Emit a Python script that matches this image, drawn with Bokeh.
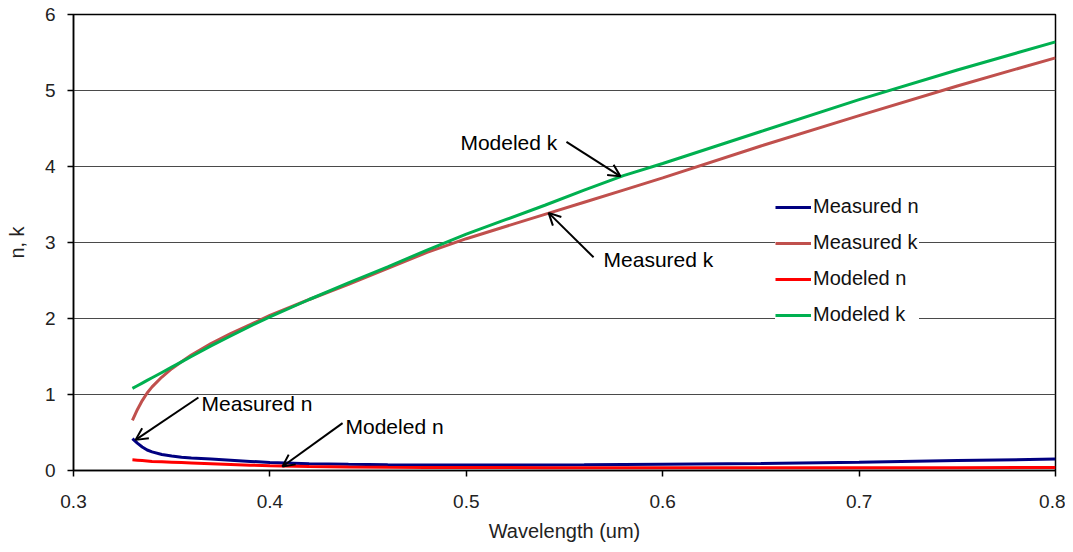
from bokeh.plotting import figure
from bokeh.models import Range1d, FixedTicker, Legend, LegendItem, Label, Arrow, OpenHead
from bokeh.embed import file_html
from bokeh.resources import INLINE

# ---- data ----
wavelength = [0.33, 0.3325, 0.335, 0.3375, 0.34, 0.345, 0.35, 0.355, 0.36, 0.37, 0.38, 0.39, 0.40,
              0.42, 0.44, 0.46, 0.48, 0.50, 0.52, 0.54, 0.56, 0.58, 0.60, 0.65,
              0.70, 0.75, 0.80]
measured_n = [0.42, 0.36, 0.31, 0.27, 0.245, 0.21, 0.19, 0.175, 0.165, 0.15, 0.135, 0.12, 0.105,
              0.09, 0.082, 0.077, 0.074, 0.073, 0.073, 0.074, 0.076, 0.079, 0.082, 0.092,
              0.11, 0.13, 0.15]
measured_k = [0.66, 0.80, 0.92, 1.02, 1.10, 1.23, 1.34, 1.43, 1.52, 1.67, 1.80, 1.92, 2.04,
              2.25, 2.45, 2.66, 2.87, 3.05, 3.21, 3.37, 3.53, 3.69, 3.85, 4.27,
              4.67, 5.06, 5.43]
modeled_n = [0.14, 0.135, 0.13, 0.125, 0.12, 0.115, 0.11, 0.105, 0.10, 0.09, 0.08, 0.07, 0.062,
             0.052, 0.046, 0.043, 0.041, 0.04, 0.038, 0.037, 0.036, 0.035, 0.035, 0.035,
             0.035, 0.037, 0.04]
modeled_k = [1.08, 1.115, 1.15, 1.185, 1.22, 1.29, 1.36, 1.43, 1.50, 1.64, 1.77, 1.90, 2.02,
             2.25, 2.47, 2.68, 2.90, 3.11, 3.30, 3.49, 3.69, 3.88, 4.04, 4.46,
             4.88, 5.27, 5.64]

series_names = ["Measured n", "Measured k", "Modeled n", "Modeled k"]
x_ticks = [0.3, 0.4, 0.5, 0.6, 0.7, 0.8]
y_ticks = [0, 1, 2, 3, 4, 5, 6]

# annotation texts and their anchor / arrow points (data units)
ann_text = ["Modeled k", "Measured k", "Measured n", "Modeled n"]
ann_x = [0.497, 0.5699, 0.3652, 0.4385]
ann_y = [4.32, 2.77, 0.883, 0.584]
arr_x0 = [0.5510, 0.5648, 0.3636, 0.4370]
arr_y0 = [4.325, 2.805, 0.961, 0.623]
arr_x1 = [0.5785, 0.5419, 0.3316, 0.4064]
arr_y1 = [3.870, 3.390, 0.403, 0.052]

FONT = "Liberation Sans"

p = figure(width=1065, height=544, output_backend="svg", toolbar_location=None,
           x_range=Range1d(0.3, 0.8), y_range=Range1d(0, 6),
           min_border_left=73, min_border_right=10, min_border_top=14,
           min_border_bottom=68)

p.background_fill_color = "white"
p.border_fill_color = "white"
p.outline_line_color = "black"
p.outline_line_width = 1.5

p.xgrid.visible = False
p.ygrid.grid_line_color = "#4a4a4a"
p.ygrid.grid_line_width = 1

for ax in (p.xaxis[0], p.yaxis[0]):
    ax.axis_line_color = "black"
    ax.axis_line_width = 1.5
    ax.major_tick_line_color = "black"
    ax.major_tick_line_width = 1.5
    ax.major_tick_in = 0
    ax.major_tick_out = 6
    ax.minor_tick_line_color = None
    ax.major_label_text_font = FONT
    ax.major_label_text_font_size = "19px"
    ax.major_label_text_color = "#222222"
    ax.axis_label_text_font = FONT
    ax.axis_label_text_font_size = "20px"
    ax.axis_label_text_font_style = "normal"
    ax.axis_label_text_color = "#222222"

p.xaxis.major_label_standoff = 18
p.yaxis.major_label_standoff = 12
p.xaxis.ticker = FixedTicker(ticks=x_ticks)
p.yaxis.ticker = FixedTicker(ticks=y_ticks)
p.xaxis.axis_label = "Wavelength (um)"
p.yaxis.axis_label = "n, k"
p.xaxis.axis_label_standoff = 9
p.yaxis.axis_label_standoff = 14

colors = ["#000080", "#C0504D", "#FF0000", "#00B050"]
ys = [measured_n, measured_k, modeled_n, modeled_k]
renderers = []
for yv, c in zip(ys, colors):
    r = p.line(wavelength, yv, line_color=c, line_width=3)
    renderers.append(r)

legend = Legend(items=[LegendItem(label=n, renderers=[r]) for n, r in zip(series_names, renderers)],
                location=(702, 144), orientation="vertical",
                background_fill_color="white", background_fill_alpha=1.0,
                border_line_color=None, glyph_width=36, glyph_height=20,
                label_height=20, spacing=13, padding=6, margin=0,
                label_standoff=2, label_text_font=FONT,
                label_text_font_size="20px", label_text_color="#111111")
p.add_layout(legend, "center")

for t, x, y in zip(ann_text, ann_x, ann_y):
    p.add_layout(Label(x=x, y=y, text=t, text_font=FONT, text_font_size="21px",
                       text_align="left", text_baseline="middle", text_color="black"))

for xa, ya, xb, yb in zip(arr_x0, arr_y0, arr_x1, arr_y1):
    p.add_layout(Arrow(end=OpenHead(size=12, line_width=2, line_color="black"),
                       x_start=xa, y_start=ya, x_end=xb, y_end=yb,
                       line_width=2, line_color="black"))

open("out.html", "w").write(file_html(p, INLINE))
